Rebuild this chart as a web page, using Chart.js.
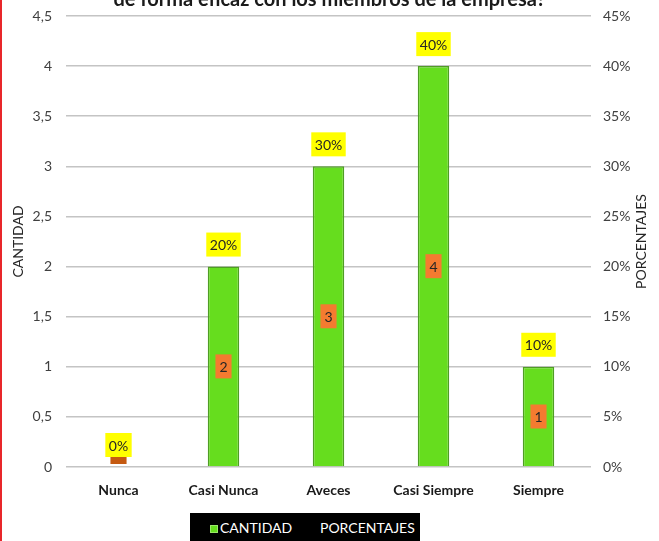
<!DOCTYPE html>
<html>
<head>
<meta charset="utf-8">
<script src="https://cdn.jsdelivr.net/npm/chart.js@4/dist/chart.umd.min.js"></script>
<style>
    html, body { margin: 0; padding: 0; background: #fff; }
    #wrap { position: relative; width: 659px; height: 541px; overflow: hidden; border-left: 2px solid #e8262a; box-sizing: border-box; }
    #chart1 { position: absolute; left: -2px; top: -14px; }
    #leyenda { position: absolute; left: 188px; top: 513px; width: 230px; height: 30px; background: #000;
        color: #fff; font: 14px Lato, sans-serif; }
    #leyenda span { position: absolute; top: 6px; }
    #leyenda .caja { top: 12px; width: 6px; height: 6px; background: #66dd1e; border: 1px solid #9be86a; }
</style>
</head>
<body>
<div id="wrap">
    <canvas id="chart1" width="659" height="555"></canvas>
    <div id="leyenda">
        <span class="caja" style="left:20px"></span>
        <span style="left:30px">CANTIDAD</span>
        <span style="left:130px">PORCENTAJES</span>
    </div>
</div>
<script>
"use strict";

const categorias = ['Nunca', 'Casi Nunca', 'Aveces', 'Casi Siempre', 'Siempre'];
const cantidad = [0, 2, 3, 4, 1];
const porcentajes = [0, 20, 30, 40, 10];
const ticksIzq = ['0', '0,5', '1', '1,5', '2', '2,5', '3', '3,5', '4', '4,5'];
const ticksDer = ['0%', '5%', '10%', '15%', '20%', '25%', '30%', '35%', '40%', '45%'];

const fuente = 'Lato, sans-serif';

// data labels: orange boxes in the bars, yellow boxes above them
const etiquetas = {
    id: 'etiquetas',
    afterDatasetsDraw(chart) {
        const ctx = chart.ctx;
        const area = chart.chartArea;
        const barras = chart.getDatasetMeta(0).data;
        const puntos = chart.getDatasetMeta(1).data;
        ctx.save();
        ctx.font = '14px ' + fuente;
        ctx.textAlign = 'center';
        ctx.textBaseline = 'middle';

        ctx.save();
        ctx.beginPath();
        ctx.rect(area.left, area.top, area.right - area.left, area.bottom - area.top - 3);
        ctx.clip();
        barras.forEach((b, i) => {
            const txt = String(cantidad[i]);
            const w = ctx.measureText(txt).width + 8;
            const h = 24;
            const cy = (b.y + b.base) / 2;
            ctx.fillStyle = cantidad[i] === 0 ? '#c55a11' : '#f47b30';
            ctx.fillRect(b.x - w / 2, cy - h / 2, w, h);
            if (cantidad[i] !== 0) {
                ctx.fillStyle = '#262626';
                ctx.fillText(txt, b.x, cy + 1);
            }
        });
        ctx.restore();

        puntos.forEach((p, i) => {
            const txt = porcentajes[i] + '%';
            const w = ctx.measureText(txt).width + 7;
            const h = 24;
            const bottom = p.y - 10;
            ctx.fillStyle = '#ffff00';
            ctx.fillRect(p.x - w / 2, bottom - h, w, h);
            ctx.fillStyle = '#262626';
            ctx.fillText(txt, p.x, bottom - h / 2 + 1);
        });

        // right axis title, reading bottom to top
        const y1 = chart.scales.y1;
        ctx.fillStyle = '#262626';
        ctx.translate(y1.right - 18, (area.top + area.bottom) / 2);
        ctx.rotate(-Math.PI / 2);
        ctx.fillText('PORCENTAJES', 0, 0);
        ctx.restore();
    }
};

const data = {
    labels: categorias,
    datasets: [{
        type: 'bar',
        label: 'CANTIDAD',
        data: cantidad,
        yAxisID: 'y',
        backgroundColor: '#66dd1e',
        borderColor: '#4f9d24',
        borderWidth: 1.5,
        barPercentage: 0.3,
        categoryPercentage: 1,
    }, {
        type: 'line',
        label: 'PORCENTAJES',
        data: porcentajes,
        yAxisID: 'y1',
        showLine: false,
        pointRadius: 0,
    }]
};

const config = {
    data: data,
    options: {
        responsive: false,
        animation: false,
        layout: { padding: { top: 0, bottom: 34, left: 0, right: 0 } },
        plugins: {
            legend: { display: false },
            tooltip: { enabled: false },
            title: {
                display: true,
                text: 'de forma eficaz con los miembros de la empresa?',
                color: '#1a1a1a',
                font: { family: fuente, size: 20, weight: 'bold' },
                padding: { top: 2, bottom: 4 },
            },
        },
        scales: {
            x: {
                grid: { display: false },
                border: { display: false },
                ticks: { color: '#1a1a1a', padding: 7, font: { family: fuente, size: 14, weight: 'bold' } },
                afterFit: s => { s.height = 40; },
            },
            y: {
                position: 'left',
                min: 0, max: 4.5,
                grid: { color: '#c4c4c4', lineWidth: 1.5, drawTicks: false },
                border: { display: false },
                ticks: {
                    stepSize: 0.5, padding: 14, color: '#404040',
                    font: { family: fuente, size: 14 },
                    callback: (v, i) => ticksIzq[i],
                },
                title: {
                    display: true, text: 'CANTIDAD', color: '#262626',
                    font: { family: fuente, size: 14 },
                    padding: { top: 10, bottom: 0 },
                },
                afterFit: s => { s.width = 66; },
            },
            y1: {
                position: 'right',
                min: 0, max: 45,
                grid: { display: false, drawTicks: false },
                border: { display: false },
                ticks: {
                    stepSize: 5, padding: 12, color: '#404040',
                    font: { family: fuente, size: 14 },
                    callback: (v, i) => ticksDer[i],
                },
                afterFit: s => { s.width = 68; },
            },
        },
    },
    plugins: [etiquetas],
};

const myChart = new Chart(document.getElementById('chart1'), config);
</script>
</body>
</html>
